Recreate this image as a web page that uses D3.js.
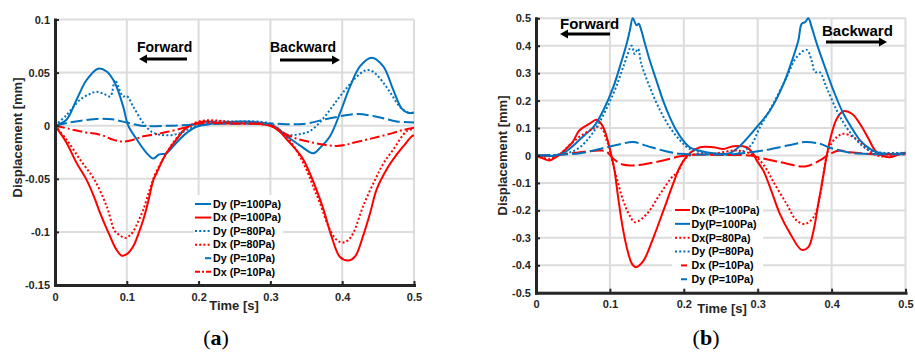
<!DOCTYPE html>
<html><head><meta charset="utf-8">
<script src="https://cdn.jsdelivr.net/npm/d3@7/dist/d3.min.js"></script>
<style>body{margin:0;background:#fff;} svg{display:block;}</style>
</head><body><svg id="c" width="915" height="354"></svg>
<script>
// ---------------- DATA ----------------
const timeTicks = [0, 0.1, 0.2, 0.3, 0.4, 0.5];
const timeTickLabels = ["0", "0.1", "0.2", "0.3", "0.4", "0.5"];
const yTicksA = [-0.15, -0.1, -0.05, 0, 0.05, 0.1];
const yTickLabelsA = ["-0.15", "-0.1", "-0.05", "0", "0.05", "0.1"];
const yTicksB = [-0.5, -0.4, -0.3, -0.2, -0.1, 0, 0.1, 0.2, 0.3, 0.4, 0.5];
const yTickLabelsB = ["-0.5", "-0.4", "-0.3", "-0.2", "-0.1", "0", "0.1", "0.2", "0.3", "0.4", "0.5"];
const legendA = ["Dy (P=100Pa)", "Dx (P=100Pa)", "Dy (P=80Pa)", "Dx (P=80Pa)", "Dy (P=10Pa)", "Dx (P=10Pa)"];
const legendB = ["Dx (P=100Pa)", "Dy(P=100Pa)", "Dx(P=80Pa)", "Dy (P=80Pa)", "Dx (P=10Pa)", "Dy (P=10Pa)"];

// panel (a) series: [time s, displacement mm]
const a_Dy100 = [[0,0],[0.016,0.0056],[0.03,0.0245],[0.044,0.043],[0.06,0.0537],[0.072,0.051],[0.0836,0.04],[0.095,0.018],[0.102,0],[0.114,-0.013],[0.128,-0.026],[0.137,-0.031],[0.145,-0.027],[0.155,-0.026],[0.169,-0.016],[0.183,-0.007],[0.197,-0.001],[0.22,0.002],[0.26,0.004],[0.3,0.001],[0.323,-0.01],[0.342,-0.019],[0.36,-0.026],[0.369,-0.021],[0.383,-0.01],[0.397,0.012],[0.411,0.037],[0.425,0.056],[0.441,0.064],[0.457,0.056],[0.471,0.034],[0.483,0.016],[0.492,0.012],[0.5,0.0125]];
const a_Dx100 = [[0,0],[0.016,-0.016],[0.03,-0.035],[0.044,-0.051],[0.055,-0.068],[0.0627,-0.082],[0.0766,-0.104],[0.085,-0.116],[0.093,-0.1224],[0.1,-0.121],[0.109,-0.1136],[0.116,-0.102],[0.123,-0.0885],[0.13,-0.071],[0.137,-0.051],[0.142,-0.044],[0.148,-0.035],[0.155,-0.026],[0.169,-0.013],[0.183,-0.002],[0.2,0.003],[0.211,0.004],[0.24,0.002],[0.27,0.002],[0.3,0],[0.312,-0.005],[0.323,-0.013],[0.335,-0.022],[0.346,-0.032],[0.355,-0.045],[0.364,-0.06],[0.374,-0.079],[0.385,-0.104],[0.397,-0.1237],[0.4085,-0.127],[0.418,-0.123],[0.429,-0.104],[0.439,-0.082],[0.448,-0.06],[0.462,-0.041],[0.475,-0.028],[0.485,-0.0195],[0.497,-0.01],[0.5,-0.009]];
const a_Dy80 = [[0,0],[0.016,0.01],[0.035,0.0245],[0.049,0.03],[0.058,0.032],[0.068,0.03],[0.077,0.0276],[0.0836,0.043],[0.089,0.035],[0.095,0.0276],[0.1,0.028],[0.109,0.018],[0.123,0.0025],[0.135,-0.006],[0.146,-0.0085],[0.16,-0.009],[0.174,-0.007],[0.19,-0.002],[0.21,0.003],[0.25,0.004],[0.3,0.002],[0.323,-0.0085],[0.34,-0.008],[0.355,-0.005],[0.37,0.004],[0.383,0.015],[0.395,0.026],[0.408,0.037],[0.42,0.046],[0.432,0.052],[0.44,0.052],[0.448,0.048],[0.46,0.038],[0.47,0.028],[0.48,0.018],[0.49,0.013],[0.5,0.012]];
const a_Dx80 = [[0,0],[0.016,-0.013],[0.035,-0.032],[0.055,-0.051],[0.072,-0.076],[0.0836,-0.0995],[0.09,-0.103],[0.0975,-0.1057],[0.103,-0.104],[0.109,-0.0995],[0.116,-0.09],[0.123,-0.079],[0.132,-0.06],[0.14,-0.045],[0.155,-0.026],[0.169,-0.012],[0.183,-0.002],[0.2,0.004],[0.22,0.005],[0.25,0.003],[0.3,0.001],[0.318,-0.007],[0.335,-0.022],[0.35,-0.041],[0.36,-0.058],[0.369,-0.073],[0.383,-0.098],[0.393,-0.108],[0.4015,-0.11],[0.408,-0.108],[0.4155,-0.101],[0.429,-0.076],[0.4457,-0.051],[0.458,-0.035],[0.471,-0.0226],[0.49,-0.005],[0.5,-0.003]];
const a_Dy10 = [[0,0],[0.02,0.003],[0.04,0.005],[0.063,0.0066],[0.08,0.006],[0.1,0.003],[0.12,0],[0.16,0],[0.2,0.001],[0.25,0.002],[0.3,0.002],[0.346,0.0017],[0.383,0.007],[0.42,0.011],[0.448,0.0085],[0.476,0.004],[0.5,0.003]];
const a_Dx10 = [[0,0],[0.02,-0.003],[0.04,-0.006],[0.063,-0.0085],[0.08,-0.013],[0.095,-0.015],[0.11,-0.013],[0.123,-0.01],[0.14,-0.008],[0.155,-0.006],[0.18,-0.002],[0.2,0.002],[0.25,0.002],[0.3,0],[0.323,-0.0085],[0.34,-0.013],[0.36,-0.016],[0.375,-0.018],[0.392,-0.019],[0.405,-0.018],[0.4155,-0.016],[0.435,-0.013],[0.453,-0.01],[0.47,-0.007],[0.485,-0.004],[0.5,-0.002]];

// panel (b) series
const b_Dx100 = [[0,0],[0.009,-0.01],[0.018,-0.018],[0.027,-0.006],[0.0406,0.024],[0.0496,0.049],[0.0586,0.091],[0.072,0.115],[0.082,0.13],[0.09,0.108],[0.097,0.055],[0.1015,0.006],[0.106,-0.05],[0.111,-0.15],[0.118,-0.273],[0.125,-0.358],[0.13,-0.395],[0.1353,-0.407],[0.1455,-0.383],[0.159,-0.298],[0.1725,-0.2],[0.186,-0.1],[0.195,-0.04],[0.208,0.008],[0.222,0.03],[0.24,0.03],[0.2535,0.024],[0.267,0.034],[0.285,0.03],[0.293,0.01],[0.2987,-0.018],[0.3076,-0.055],[0.3166,-0.115],[0.33,-0.213],[0.344,-0.285],[0.3595,-0.344],[0.3685,-0.334],[0.3756,-0.273],[0.382,-0.176],[0.389,-0.07],[0.393,-0.006],[0.4,0.079],[0.407,0.134],[0.416,0.161],[0.4275,0.152],[0.4385,0.115],[0.45,0.061],[0.459,0.018],[0.468,0],[0.479,-0.006],[0.4925,0.006],[0.5,0.01]];
const b_Dy100 = [[0,0],[0.027,0],[0.0406,0.015],[0.054,0.045],[0.0677,0.079],[0.0776,0.103],[0.091,0.164],[0.1046,0.249],[0.116,0.346],[0.1227,0.407],[0.127,0.456],[0.131,0.5],[0.136,0.475],[0.139,0.48],[0.1425,0.456],[0.1475,0.407],[0.154,0.346],[0.163,0.273],[0.172,0.2],[0.181,0.14],[0.19,0.091],[0.199,0.055],[0.208,0.03],[0.22,0.018],[0.24,0.008],[0.262,0.008],[0.276,0.035],[0.2986,0.103],[0.3166,0.164],[0.335,0.261],[0.348,0.358],[0.355,0.419],[0.3595,0.48],[0.364,0.486],[0.3685,0.5],[0.373,0.468],[0.38,0.407],[0.391,0.322],[0.4025,0.237],[0.416,0.152],[0.4295,0.091],[0.4385,0.055],[0.452,0.024],[0.461,0.012],[0.475,0.006],[0.5,0.008]];
const b_Dx80 = [[0,0],[0.018,-0.012],[0.032,0.004],[0.046,0.04],[0.06,0.07],[0.0767,0.097],[0.0835,0.105],[0.09,0.095],[0.095,0.06],[0.099,0.03],[0.103,-0.018],[0.108,-0.07],[0.118,-0.164],[0.126,-0.215],[0.134,-0.243],[0.15,-0.213],[0.168,-0.14],[0.186,-0.073],[0.19,-0.067],[0.204,-0.006],[0.22,0.006],[0.24,0.006],[0.267,0.018],[0.285,0.012],[0.295,0],[0.303,-0.018],[0.312,-0.05],[0.321,-0.095],[0.339,-0.176],[0.3526,-0.237],[0.364,-0.249],[0.3756,-0.225],[0.384,-0.152],[0.389,-0.067],[0.393,-0.006],[0.398,0.036],[0.407,0.067],[0.416,0.079],[0.4295,0.067],[0.443,0.036],[0.4565,0.006],[0.47,-0.004],[0.485,0],[0.5,0.01]];
const b_Dy80 = [[0,0],[0.032,0.003],[0.055,0.022],[0.0776,0.085],[0.1046,0.225],[0.118,0.322],[0.1295,0.4],[0.1335,0.37],[0.138,0.389],[0.1425,0.334],[0.154,0.249],[0.168,0.164],[0.181,0.103],[0.195,0.055],[0.208,0.024],[0.23,0.01],[0.27,0.006],[0.29,0.035],[0.303,0.103],[0.321,0.188],[0.339,0.285],[0.3526,0.358],[0.3663,0.385],[0.373,0.346],[0.3775,0.304],[0.384,0.304],[0.393,0.249],[0.407,0.164],[0.42,0.103],[0.434,0.055],[0.45,0.02],[0.47,0.01],[0.5,0.01]];
const b_Dx10 = [[0,0],[0.032,0.003],[0.0595,0.012],[0.0866,0.018],[0.095,0.015],[0.1046,-0.012],[0.117,-0.033],[0.1317,-0.036],[0.15,-0.03],[0.172,-0.018],[0.195,-0.003],[0.208,0.002],[0.25,0.002],[0.29,0],[0.3,-0.006],[0.33,-0.024],[0.364,-0.04],[0.384,-0.018],[0.398,0.006],[0.411,0.018],[0.425,0.012],[0.4655,0.004],[0.5,0.005]];
const b_Dy10 = [[0,0],[0.032,0.003],[0.0595,0.008],[0.0776,0.018],[0.0956,0.03],[0.115,0.042],[0.1317,0.049],[0.15,0.035],[0.172,0.018],[0.195,0.006],[0.24,0.004],[0.262,0.004],[0.285,0.01],[0.307,0.018],[0.33,0.03],[0.35,0.042],[0.364,0.049],[0.384,0.043],[0.398,0.028],[0.411,0.018],[0.43,0.008],[0.5,0.005]];

// ---------------- STYLE ----------------
const BLUE = "#0072BD", RED = "#FF0000";
const DOT = "2,2.2", DASH = "12,4", DASHDOT = "10,3,2,3";
const svg = d3.select("#c");
const FONT = "'Liberation Sans', Arial, sans-serif";
const INK = "#262626";

function drawPanel(cfg) {
  const g = svg.append("g");
  const x = d3.scaleLinear().domain([0, 0.5]).range([cfg.left, cfg.right]);
  const y = d3.scaleLinear().domain(cfg.yDomain).range([cfg.bottom, cfg.top]);

  // grid
  const grid = g.append("g").attr("stroke", "#dcdcdc").attr("stroke-width", 2);
  grid.selectAll(".gv").data(timeTicks).join("line")
    .attr("x1", d => x(d)).attr("x2", d => x(d)).attr("y1", cfg.top).attr("y2", cfg.bottom);
  grid.selectAll(".gh").data(cfg.yTicks).join("line")
    .attr("y1", d => y(d)).attr("y2", d => y(d)).attr("x1", cfg.left).attr("x2", cfg.right);

  // series
  const line = d3.line().x(d => x(d[0])).y(d => y(d[1])).curve(d3.curveCatmullRom.alpha(0.5));
  cfg.series.forEach(s => {
    g.append("path").attr("d", line(s.data)).attr("fill", "none")
      .attr("stroke", s.color).attr("stroke-width", 2)
      .attr("stroke-dasharray", s.dash || null);
  });

  // legend
  const lg = cfg.legend;
  g.append("rect").attr("x", lg.x).attr("y", lg.y).attr("width", lg.w).attr("height", lg.h).attr("fill", "#fff");
  lg.labels.forEach((lab, i) => {
    const s = cfg.legendSeries[i];
    const yy = lg.row0 + i * lg.step;
    g.append("line").attr("x1", s.sx1).attr("x2", s.sx2).attr("y1", yy).attr("y2", yy)
      .attr("stroke", s.color).attr("stroke-width", 2).attr("stroke-dasharray", s.sdash || null);
    g.append("text").attr("x", lg.tx).attr("y", yy + 3.8).text(lab)
      .attr("font-family", FONT).attr("font-weight", "bold").attr("font-size", 10.7).attr("fill", "#000");
  });

  // axes
  const xAxis = d3.axisBottom(x).tickValues(timeTicks).tickFormat((d, i) => timeTickLabels[i])
    .tickSizeInner(-4).tickSizeOuter(0).tickPadding(8);
  const yAxis = d3.axisLeft(y).tickValues(cfg.yTicks).tickFormat((d, i) => cfg.yLabels[i])
    .tickSizeInner(-4).tickSizeOuter(0).tickPadding(5);
  [g.append("g").attr("transform", `translate(0,${cfg.bottom})`).call(xAxis),
   g.append("g").attr("transform", `translate(${cfg.left},0)`).call(yAxis)].forEach(ax => {
    ax.attr("font-family", FONT).attr("font-size", 11).attr("font-weight", "bold");
    ax.select(".domain").attr("stroke", INK).attr("stroke-width", 3).attr("stroke-linecap", "square");
    ax.selectAll(".tick line").attr("stroke", INK).attr("stroke-width", 2);
    ax.selectAll(".tick text").attr("fill", INK);
  });

  // axis titles
  g.append("text").attr("transform", `translate(${cfg.ylx},${cfg.yly}) rotate(-90)`)
    .attr("text-anchor", "middle").attr("dominant-baseline", "central")
    .attr("font-family", FONT).attr("font-weight", "bold").attr("font-size", 13).attr("fill", INK)
    .text("Displacement [mm]");
  g.append("text").attr("x", cfg.xlx).attr("y", cfg.xly).attr("text-anchor", "middle")
    .attr("font-family", FONT).attr("font-weight", "bold").attr("font-size", 13).attr("fill", INK)
    .text("Time [s]");

  // annotations
  cfg.notes.forEach(n => {
    g.append("text").attr("x", n.tx).attr("y", n.ty).text(n.text)
      .attr("font-family", FONT).attr("font-weight", "bold").attr("font-size", n.fs).attr("fill", "#000");
    const dir = Math.sign(n.head - n.tail);
    g.append("line").attr("x1", n.tail).attr("x2", n.head - dir * 6).attr("y1", n.ay).attr("y2", n.ay)
      .attr("stroke", "#000").attr("stroke-width", 3);
    g.append("path").attr("d", `M${n.head},${n.ay} L${n.head - dir * 8},${n.ay - 4.5} L${n.head - dir * 8},${n.ay + 4.5} Z`)
      .attr("fill", "#000");
  });

  // panel letter
  const t = g.append("text").attr("x", cfg.px).attr("y", 345).attr("text-anchor", "middle")
    .attr("font-family", "'Liberation Serif', 'DejaVu Serif', serif").attr("font-size", 22).attr("fill", "#000");
  t.append("tspan").text("(");
  t.append("tspan").attr("font-weight", "bold").text(cfg.letter);
  t.append("tspan").text(")");
}

drawPanel({
  left: 55, right: 414, top: 19.5, bottom: 285,
  yDomain: [-0.15, 0.1], yTicks: yTicksA, yLabels: yTickLabelsA,
  series: [
    {data: a_Dy100, color: BLUE},
    {data: a_Dx100, color: RED},
    {data: a_Dy80, color: BLUE, dash: DOT},
    {data: a_Dx80, color: RED, dash: DOT},
    {data: a_Dy10, color: BLUE, dash: DASH},
    {data: a_Dx10, color: RED, dash: DASHDOT}
  ],
  legend: {x: 194, y: 195, w: 89, h: 87, row0: 204, step: 13.55, tx: 213, labels: legendA},
  legendSeries: [
    {color: BLUE, sx1: 195, sx2: 211},
    {color: RED, sx1: 195, sx2: 211},
    {color: BLUE, sx1: 195, sx2: 211, sdash: DOT},
    {color: RED, sx1: 195, sx2: 211, sdash: DOT},
    {color: BLUE, sx1: 205, sx2: 211},
    {color: RED, sx1: 195, sx2: 212, sdash: "5,2,2,2"}
  ],
  ylx: 17, yly: 137.5, xlx: 234, xly: 310,
  notes: [
    {text: "Forward", tx: 137, ty: 52, fs: 14, tail: 187, head: 139, ay: 59},
    {text: "Backward", tx: 270, ty: 52, fs: 14, tail: 280, head: 340, ay: 60}
  ],
  px: 216, letter: "a"
});

drawPanel({
  left: 536, right: 905.5, top: 18.3, bottom: 292.7,
  yDomain: [-0.5, 0.5], yTicks: yTicksB, yLabels: yTickLabelsB,
  series: [
    {data: b_Dx100, color: RED},
    {data: b_Dy100, color: BLUE},
    {data: b_Dx80, color: RED, dash: DOT},
    {data: b_Dy80, color: BLUE, dash: DOT},
    {data: b_Dx10, color: RED, dash: "14,4"},
    {data: b_Dy10, color: BLUE, dash: "14,4"}
  ],
  legend: {x: 672, y: 200, w: 91, h: 89, row0: 210, step: 13.85, tx: 691.5, labels: legendB},
  legendSeries: [
    {color: RED, sx1: 675, sx2: 690},
    {color: BLUE, sx1: 675, sx2: 690},
    {color: RED, sx1: 675, sx2: 690, sdash: DOT},
    {color: BLUE, sx1: 675, sx2: 690, sdash: DOT},
    {color: RED, sx1: 681, sx2: 687},
    {color: BLUE, sx1: 681, sx2: 687}
  ],
  ylx: 502, yly: 155.5, xlx: 722, xly: 313,
  notes: [
    {text: "Forward", tx: 560, ty: 28.5, fs: 15, tail: 610, head: 560, ay: 34},
    {text: "Backward", tx: 822, ty: 35.5, fs: 15, tail: 826, head: 887, ay: 42}
  ],
  px: 706, letter: "b"
});
</script>
</body></html>
